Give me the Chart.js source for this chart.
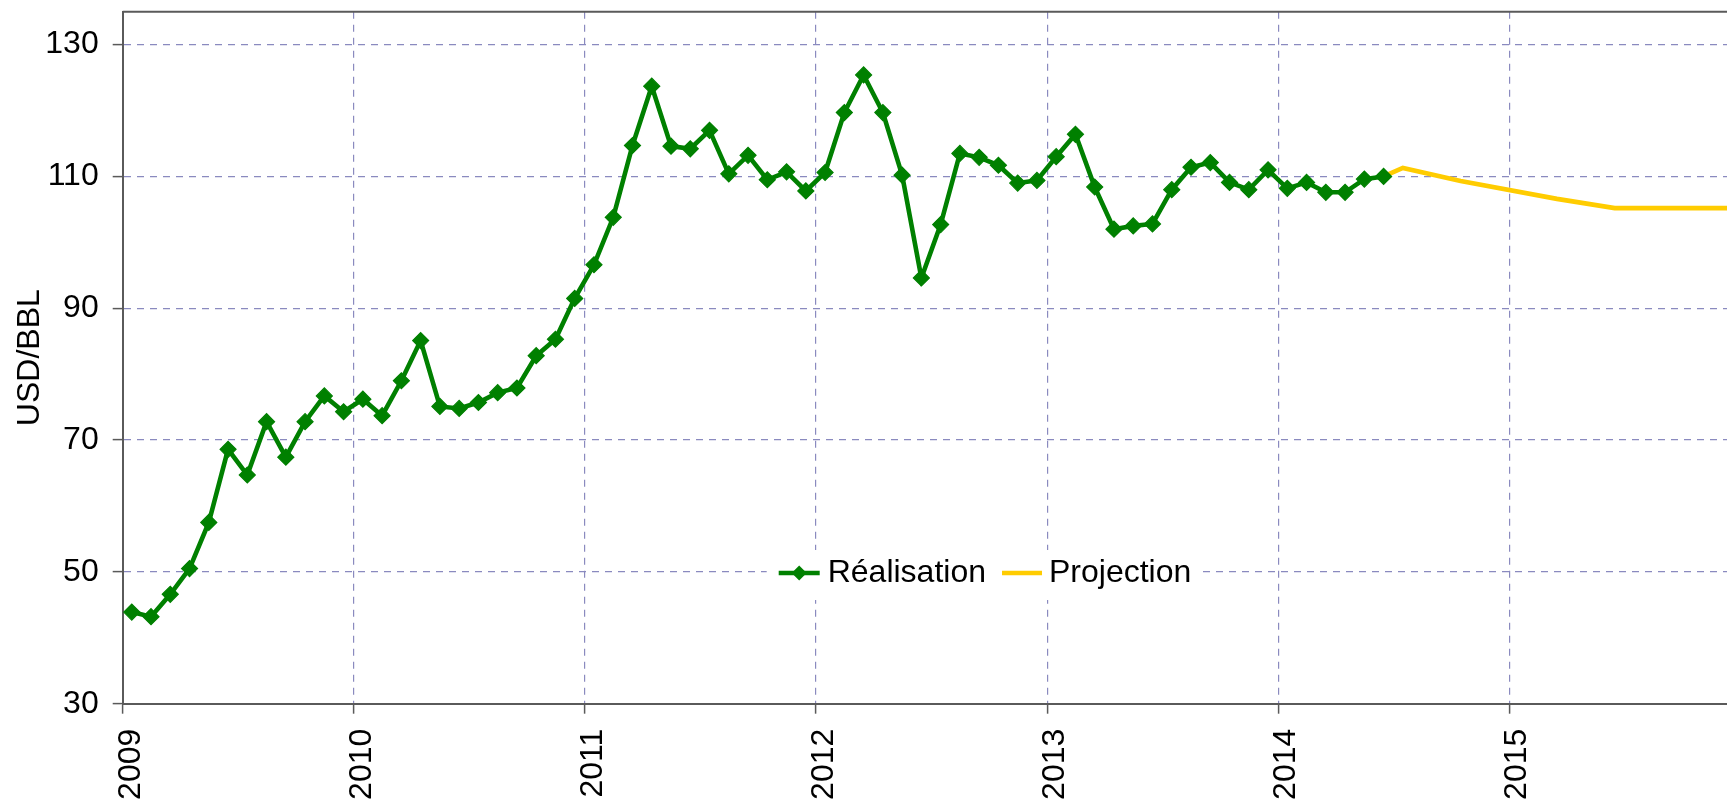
<!DOCTYPE html>
<html>
<head>
<meta charset="utf-8">
<script src="https://cdn.jsdelivr.net/npm/chart.js@4.4.1/dist/chart.umd.min.js"></script>
<style>
html,body{margin:0;padding:0;background:#fff;overflow:hidden}
#wrap{width:1727px;height:806px;position:relative}
canvas{display:block}
</style>
</head>
<body>
<div id="wrap"><canvas id="c" width="1727" height="806"></canvas></div>
<script>
// ---- categories (monthly) ----
const months = [
 '2009-01','2009-02','2009-03','2009-04','2009-05','2009-06','2009-07','2009-08','2009-09','2009-10','2009-11','2009-12',
 '2010-01','2010-02','2010-03','2010-04','2010-05','2010-06','2010-07','2010-08','2010-09','2010-10','2010-11','2010-12',
 '2011-01','2011-02','2011-03','2011-04','2011-05','2011-06','2011-07','2011-08','2011-09','2011-10','2011-11','2011-12',
 '2012-01','2012-02','2012-03','2012-04','2012-05','2012-06','2012-07','2012-08','2012-09','2012-10','2012-11','2012-12',
 '2013-01','2013-02','2013-03','2013-04','2013-05','2013-06','2013-07','2013-08','2013-09','2013-10','2013-11','2013-12',
 '2014-01','2014-02','2014-03','2014-04','2014-05','2014-06','2014-07','2014-08','2014-09','2014-10','2014-11','2014-12',
 '2015-01','2015-02','2015-03','2015-04','2015-05','2015-06','2015-07','2015-08','2015-09','2015-10','2015-11','2015-12'
];

// ---- series values ----
// Réalisation: 2009-01 .. 2014-06
const realisation = [
 43.9, 43.2, 46.6, 50.5, 57.5, 68.6, 64.7, 72.8, 67.4, 72.8, 76.7, 74.3,
 76.2, 73.7, 79.0, 85.1, 75.1, 74.8, 75.7, 77.2, 77.9, 82.8, 85.3, 91.5,
 96.6, 103.8, 114.7, 123.7, 114.6, 114.2, 117.0, 110.4, 113.2, 109.5, 110.7, 107.8,
 110.6, 119.7, 125.4, 119.7, 110.2, 94.6, 102.7, 113.5, 112.9, 111.7, 109.0, 109.4,
 113.0, 116.4, 108.4, 102.0, 102.5, 102.8, 108.0, 111.4, 112.1, 109.1, 108.0, 111.0,
 108.2, 109.1, 107.6, 107.6, 109.6, 110.0
];
// Projection: visible vertices of the projection line
const projMonths = ['2014-06','2014-07','2014-10','2015-03','2015-06','2015-12'];
const projection = [110.0, 111.3, 109.3, 106.6, 105.2, 105.2];

// ---- tick labels / texts ----
const yearTicks = ['2009','2010','2011','2012','2013','2014','2015'];
const yTicks = [30, 50, 70, 90, 110, 130];
const seriesLabels = ['Réalisation','Projection'];
const yTitle = 'USD/BBL';

const FONT = "'Liberation Sans', Arial, Helvetica, sans-serif";
const MID = 0.47;                       // points sit mid-month
const xOf = m => months.indexOf(m) + MID;

const gridColor = '#8a8abf';
const axisColor = '#5a5a5a';

const legendPlugin = {
  id: 'innerLegend',
  afterDraw(chart) {
    const {ctx, chartArea} = chart;
    const ds = chart.data.datasets;
    ctx.save();
    // top frame line of plot area
    ctx.strokeStyle = axisColor; ctx.lineWidth = 2;
    ctx.beginPath(); ctx.moveTo(chartArea.left, chartArea.top); ctx.lineTo(chartArea.right, chartArea.top); ctx.stroke();

    const boxL = chartArea.left + 644, boxT = 550, boxW = 433, boxH = 50;
    ctx.fillStyle = '#fff';
    ctx.fillRect(boxL, boxT, boxW, boxH);
    const cy = boxT + 23;
    ctx.font = '32px ' + FONT;
    ctx.textBaseline = 'middle';
    ctx.textAlign = 'left';
    let x = boxL + 12;
    // item 1
    ctx.strokeStyle = ds[0].borderColor; ctx.lineWidth = 4.5;
    ctx.beginPath(); ctx.moveTo(x, cy); ctx.lineTo(x + 41, cy); ctx.stroke();
    ctx.fillStyle = ds[0].borderColor;
    const dx = x + 20.5, r = 7.5;
    ctx.beginPath(); ctx.moveTo(dx - r, cy); ctx.lineTo(dx, cy - r); ctx.lineTo(dx + r, cy); ctx.lineTo(dx, cy + r); ctx.closePath(); ctx.fill();
    x += 49;
    ctx.fillStyle = '#000';
    ctx.fillText(ds[0].label, x, cy);
    x += ctx.measureText(ds[0].label).width + 16;
    // item 2
    ctx.strokeStyle = ds[1].borderColor; ctx.lineWidth = 4.5;
    ctx.beginPath(); ctx.moveTo(x, cy); ctx.lineTo(x + 40, cy); ctx.stroke();
    x += 47;
    ctx.fillStyle = '#000';
    ctx.fillText(ds[1].label, x, cy);
    ctx.restore();
  }
};

new Chart(document.getElementById('c'), {
  type: 'line',
  data: {
    datasets: [
      {
        label: seriesLabels[0],
        data: realisation.map((v, i) => ({x: xOf(months[i]), y: v})),
        borderColor: '#008000',
        backgroundColor: '#008000',
        borderWidth: 4.6,
        pointStyle: 'rectRot',
        pointRadius: 8,
        pointBorderWidth: 1.2,
        pointBackgroundColor: '#008000',
        pointBorderColor: '#008000',
        tension: 0,
        fill: false
      },
      {
        label: seriesLabels[1],
        data: projection.map((v, i) => ({x: xOf(projMonths[i]), y: v})),
        borderColor: '#FFCC00',
        backgroundColor: '#FFCC00',
        borderWidth: 4.6,
        pointRadius: 0,
        tension: 0,
        fill: false
      }
    ]
  },
  options: {
    responsive: false,
    devicePixelRatio: 1,
    animation: false,
    layout: {autoPadding: false, padding: {top: 11.7, left: 0, right: 0, bottom: 0}},
    plugins: {legend: {display: false}, tooltip: {enabled: false}},
    scales: {
      x: {
        type: 'linear',
        position: 'bottom',
        min: 0,
        max: 83.3,
        ticks: {
          stepSize: 12,
          autoSkip: false,
          includeBounds: false,
          minRotation: 90,
          maxRotation: 90,
          padding: 15,
          labelOffset: 8,
          color: '#000',
          font: {family: FONT, size: 32},
          callback: v => (v % 12 === 0 && yearTicks[v / 12] !== undefined) ? yearTicks[v / 12] : ''
        },
        grid: {color: gridColor, lineWidth: 1.2, tickLength: 10, tickColor: axisColor, tickWidth: 1.5, tickBorderDash: []},
        border: {display: true, color: axisColor, width: 2, dash: [7, 6]},
        afterFit(s) { s.height = 806 - 703.7; s.paddingLeft = 0; s.paddingRight = 0; }
      },
      y: {
        type: 'linear',
        min: 30,
        max: 135,
        afterBuildTicks(s) { s.ticks = yTicks.map(v => ({value: v})); },
        ticks: {
          padding: 14,
          color: '#000',
          font: {family: FONT, size: 32}
        },
        grid: {color: gridColor, lineWidth: 1.2, tickLength: 10, tickColor: axisColor, tickWidth: 1.5, tickBorderDash: []},
        border: {display: true, color: axisColor, width: 2, dash: [7, 6]},
        title: {display: true, text: yTitle, color: '#000', font: {family: FONT, size: 32}, padding: {top: 11.3, bottom: 0}},
        afterFit(s) { s.width = 122.7; s.paddingTop = 0; s.paddingBottom = 0; }
      }
    }
  },
  plugins: [legendPlugin]
});
</script>
</body>
</html>
